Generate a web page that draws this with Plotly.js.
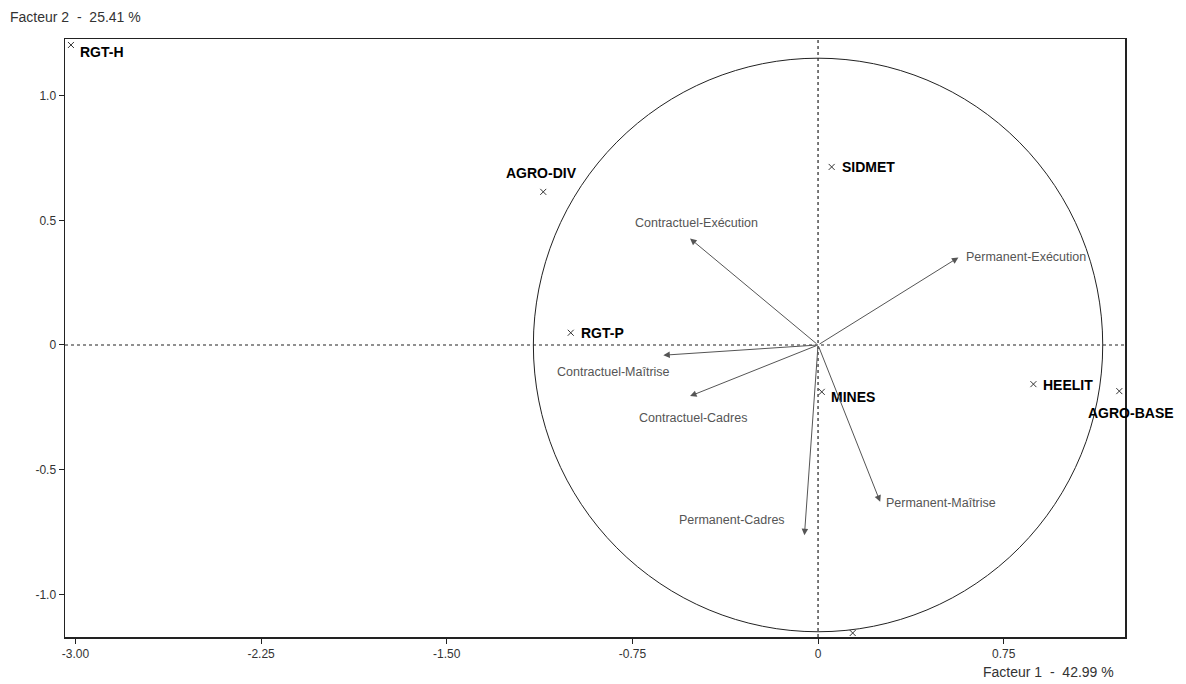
<!DOCTYPE html>
<html>
<head>
<meta charset="utf-8">
<script src="https://cdn.plot.ly/plotly-3.0.1.min.js"></script>
<style>html,body{margin:0;padding:0;background:#fff;}#chart{width:1186px;height:684px;}</style>
</head>
<body>
<div id="chart"></div>
<script>
// Individuals (projected points)
const pointNames = ['RGT-H', 'AGRO-DIV', 'SIDMET', 'RGT-P', 'MINES', 'HEELIT', 'AGRO-BASE', ''];
const pointX = [-3.018, -1.110, 0.055, -0.999, 0.015, 0.870, 1.217, 0.140];
const pointY = [1.203, 0.614, 0.714, 0.049, -0.188, -0.157, -0.185, -1.155];

// Variables (correlation-circle arrows)
const varNames = ['Contractuel-Exécution', 'Permanent-Exécution', 'Contractuel-Maîtrise',
                  'Contractuel-Cadres', 'Permanent-Maîtrise', 'Permanent-Cadres'];
const varX = [-0.517, 0.567, -0.625, -0.517, 0.251, -0.055];
const varY = [0.427, 0.351, -0.041, -0.205, -0.629, -0.763];

// Circle radius
const circleR = 1.15;

// Axis ticks
const xTickVals = [-3.00, -2.25, -1.50, -0.75, 0, 0.75];
const xTickText = ['-3.00', '-2.25', '-1.50', '-0.75', '0', '0.75'];
const yTickVals = [1.0, 0.5, 0, -0.5, -1.0];
const yTickText = ['1.0', '0.5', '0', '-0.5', '-1.0'];

const xTitle = 'Facteur 1&nbsp;&nbsp;-&nbsp;&nbsp;42.99 %';
const yTitle = 'Facteur 2&nbsp;&nbsp;-&nbsp;&nbsp;25.41 %';

// Label placement (styling, not data): [xanchor, xshift, yshift]
const pointLabelPos = [
  ['left', 7, -7], ['center', -2, 19], ['left', 8, 0], ['left', 8, 0],
  ['left', 7, -5], ['left', 8, -1], ['center', 12, -22], ['left', 8, 0]
];
const varLabelPos = [
  ['center', 6, 16], ['left', 6, 0], ['center', -50, -17],
  ['center', 3, -22], ['left', 4, -1], ['right', -17, 15]
];

const FONT = 'Arial, "Liberation Sans", sans-serif';

const traces = [{
  type: 'scatter',
  mode: 'markers',
  x: pointX,
  y: pointY,
  marker: {symbol: 'x-thin', size: 6, line: {width: 1, color: '#333'}, color: '#333'},
  hoverinfo: 'text',
  text: pointNames,
  showlegend: false,
  cliponaxis: false
}];

const annotations = [];
pointNames.forEach((n, i) => {
  if (!n) return;
  const p = pointLabelPos[i];
  annotations.push({
    x: pointX[i], y: pointY[i], xref: 'x', yref: 'y',
    text: '<b>' + n + '</b>', showarrow: false,
    xanchor: p[0], yanchor: 'middle', xshift: p[1], yshift: p[2],
    font: {family: FONT, size: 14, color: '#000'}
  });
});
varNames.forEach((n, i) => {
  annotations.push({
    x: varX[i], y: varY[i], xref: 'x', yref: 'y',
    ax: 0, ay: 0, axref: 'x', ayref: 'y',
    text: '', showarrow: true, arrowhead: 2, arrowsize: 1.3, arrowwidth: 1,
    arrowcolor: '#555', standoff: 0, startstandoff: 0
  });
  const p = varLabelPos[i];
  annotations.push({
    x: varX[i], y: varY[i], xref: 'x', yref: 'y',
    text: n, showarrow: false,
    xanchor: p[0], yanchor: 'middle', xshift: p[1], yshift: p[2],
    font: {family: FONT, size: 12.5, color: '#555'}
  });
});
annotations.push({
  xref: 'paper', yref: 'paper', x: -0.0538, y: 1.036, xanchor: 'left', yanchor: 'middle',
  text: yTitle, showarrow: false, font: {family: FONT, size: 14, color: '#333'}
});
annotations.push({
  xref: 'paper', yref: 'paper', x: 0.9915, y: -0.058, xanchor: 'right', yanchor: 'middle',
  text: xTitle, showarrow: false, font: {family: FONT, size: 14, color: '#333'}
});

const layout = {
  width: 1186, height: 684,
  margin: {l: 65, r: 61, t: 39, b: 47},
  paper_bgcolor: '#fff', plot_bgcolor: '#fff',
  font: {family: FONT, size: 12, color: '#333'},
  xaxis: {
    range: [-3.042, 1.240], tickvals: xTickVals, ticktext: xTickText,
    showgrid: false, zeroline: false, showline: true, linecolor: '#222', linewidth: 1.5,
    mirror: true, ticks: 'outside', ticklen: 5, tickcolor: '#222', tickwidth: 1,
    tickfont: {family: FONT, size: 12, color: '#333'}, fixedrange: true
  },
  yaxis: {
    range: [-1.171, 1.227], tickvals: yTickVals, ticktext: yTickText,
    showgrid: false, zeroline: false, showline: true, linecolor: '#222', linewidth: 1.5,
    mirror: true, ticks: 'outside', ticklen: 5, tickcolor: '#222', tickwidth: 1,
    tickfont: {family: FONT, size: 12, color: '#333'}, fixedrange: true
  },
  shapes: [
    {type: 'circle', xref: 'x', yref: 'y', x0: -circleR, x1: circleR, y0: -circleR, y1: circleR,
     line: {color: '#222', width: 1}, layer: 'below'},
    {type: 'line', xref: 'x', yref: 'paper', x0: 0, x1: 0, y0: 0, y1: 1,
     line: {color: '#222', width: 1.2, dash: '3px,3px'}, layer: 'below'},
    {type: 'line', xref: 'paper', yref: 'y', x0: 0, x1: 1, y0: 0, y1: 0,
     line: {color: '#222', width: 1.2, dash: '3px,3px'}, layer: 'below'}
  ],
  annotations: annotations,
  showlegend: false
};

Plotly.newPlot('chart', traces, layout, {displayModeBar: false, staticPlot: true});
</script>
</body>
</html>
